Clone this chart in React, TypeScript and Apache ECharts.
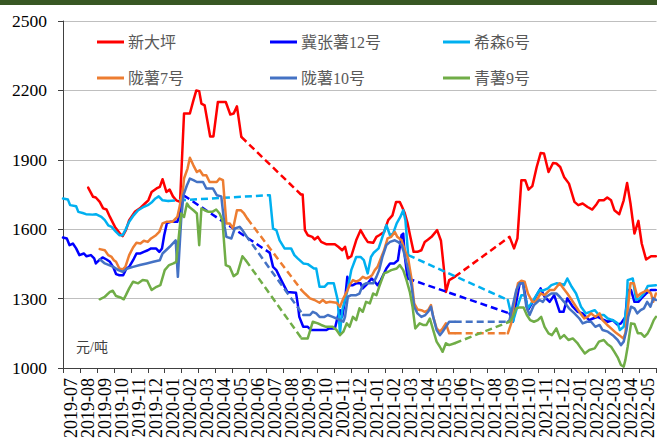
import React, { useEffect, useRef } from "react";
import * as echarts from "echarts";

type Pt = [string, number];

const MONTHS = [
  "2019-07", "2019-08", "2019-09", "2019-10", "2019-11", "2019-12",
  "2020-01", "2020-02", "2020-03", "2020-04", "2020-05", "2020-06",
  "2020-07", "2020-08", "2020-09", "2020-10", "2020-11", "2020-12",
  "2021-01", "2021-02", "2021-03", "2021-04", "2021-05", "2021-06",
  "2021-07", "2021-08", "2021-09", "2021-10", "2021-11", "2021-12",
  "2022-01", "2022-02", "2022-03", "2022-04", "2022-05",
];

const Y_MIN = 1000;
const Y_MAX = 2500;
const Y_STEP = 300;

// 新大坪
const XIN_DA_PING: Pt[][] = [
  [["2019-08-16",1780],["2019-08-25",1740],["2019-08-30",1737],["2019-09-06",1718],["2019-09-12",1690],["2019-09-18",1685],["2019-09-24",1653],["2019-10-03",1610],["2019-10-12",1581],["2019-10-17",1570],["2019-10-23",1596],["2019-10-29",1639],["2019-11-08",1675],["2019-11-17",1690],["2019-11-26",1711],["2019-12-02",1725],["2019-12-08",1761],["2019-12-17",1776],["2019-12-23",1783],["2019-12-28",1816],["2020-01-04",1761],["2020-01-10",1771],["2020-01-16",1742],["2020-01-22",1725],["2020-01-29",1718],["2020-02-05",2100],["2020-02-15",2100],["2020-02-21",2157],["2020-02-26",2200],["2020-03-02",2197],["2020-03-06",2143],["2020-03-12",2135],["2020-03-22",2001],["2020-03-28",2001],["2020-04-05",2150],["2020-04-19",2150],["2020-04-27",2096],["2020-05-03",2100],["2020-05-09",2131],["2020-05-17",1999]],
  [["2020-09-02",1750],["2020-09-05",1750],["2020-09-09",1596],["2020-09-14",1574],["2020-09-22",1567],["2020-09-26",1556],["2020-10-02",1567],["2020-10-08",1545],["2020-10-17",1535],["2020-11-02",1535],["2020-11-08",1524],["2020-11-15",1509],["2020-11-20",1524],["2020-11-25",1474],["2020-12-01",1483],["2020-12-10",1552],["2020-12-18",1596],["2020-12-25",1567],["2020-12-31",1545],["2021-01-10",1541],["2021-01-16",1567],["2021-01-21",1574],["2021-01-30",1588],["2021-02-06",1639],["2021-02-13",1660],["2021-02-19",1718],["2021-02-25",1718],["2021-03-01",1696],["2021-03-06",1668],["2021-03-11",1625],["2021-03-16",1567],["2021-03-22",1502],["2021-03-29",1502],["2021-04-05",1509],["2021-04-11",1545],["2021-04-17",1556],["2021-04-23",1567],["2021-05-03",1596],["2021-05-10",1550],["2021-05-15",1437],["2021-05-19",1329],["2021-05-25",1380],["2021-06-04",1394]],
  [["2021-09-11",1567],["2021-09-19",1517],["2021-09-25",1560],["2021-10-02",1812],["2021-10-09",1812],["2021-10-15",1771],["2021-10-22",1786],["2021-10-30",1869],["2021-11-06",1929],["2021-11-12",1927],["2021-11-20",1847],["2021-11-28",1886],["2021-12-04",1884],["2021-12-11",1869],["2021-12-18",1826],["2021-12-27",1797],["2022-01-06",1718],["2022-01-13",1704],["2022-01-21",1711],["2022-01-30",1696],["2022-02-07",1685],["2022-02-14",1708],["2022-02-18",1725],["2022-02-26",1725],["2022-03-04",1737],["2022-03-11",1725],["2022-03-17",1682],["2022-03-26",1665],["2022-04-03",1725],["2022-04-09",1800],["2022-04-15",1711],["2022-04-22",1581],["2022-04-29",1636],["2022-05-05",1538],["2022-05-13",1469],["2022-05-22",1483],["2022-05-31",1483]],
];

// 冀张薯12号
const JI_ZHANG_12: Pt[][] = [
  [["2019-07-01",1564],["2019-07-08",1560],["2019-07-13",1531],["2019-07-19",1538],["2019-07-25",1517],["2019-07-31",1488],["2019-08-08",1495],["2019-08-13",1483],["2019-08-21",1488],["2019-08-27",1474],["2019-08-30",1452],["2019-09-05",1466],["2019-09-11",1478],["2019-09-18",1469],["2019-09-24",1459],["2019-09-30",1435],["2019-10-05",1406],["2019-10-11",1401],["2019-10-18",1401],["2019-10-24",1430],["2019-10-29",1437],["2019-11-05",1466],["2019-11-11",1495],["2019-11-18",1495],["2019-11-24",1502],["2019-12-01",1509],["2019-12-07",1517],["2019-12-16",1517],["2019-12-22",1502],["2019-12-27",1517],["2019-12-31",1574],["2020-01-05",1627],["2020-01-12",1632],["2020-01-24",1632],["2020-01-29",1675],["2020-02-04",1747]],
  [["2020-07-07",1498],["2020-07-13",1437],["2020-07-19",1423],["2020-07-25",1394],["2020-07-31",1366],["2020-08-08",1329],["2020-08-24",1325],["2020-08-27",1279],["2020-08-30",1221],["2020-09-06",1178],["2020-09-14",1178],["2020-09-20",1164],["2020-10-05",1164],["2020-10-17",1164],["2020-10-23",1171],["2020-11-02",1171],["2020-11-07",1221],["2020-11-11",1250],["2020-11-15",1221],["2020-11-20",1294],["2020-11-24",1394],["2020-11-28",1358],["2020-12-04",1358],["2020-12-10",1366],["2020-12-18",1366],["2020-12-22",1344],["2020-12-28",1358],["2021-01-07",1387],["2021-01-13",1373],["2021-01-18",1358],["2021-01-24",1380],["2021-02-03",1430],["2021-02-09",1452],["2021-02-16",1452],["2021-02-22",1466],["2021-02-28",1574],["2021-03-03",1581],["2021-03-06",1480],["2021-03-11",1387]],
  [["2021-09-11",1236],["2021-09-17",1200],["2021-09-23",1286],["2021-09-29",1366],["2021-10-05",1366],["2021-10-14",1250],["2021-10-25",1294],["2021-11-06",1344],["2021-11-13",1308],["2021-11-22",1286],["2021-11-30",1315],["2021-12-10",1243],["2021-12-17",1243],["2021-12-24",1301],["2022-01-03",1265],["2022-01-12",1243],["2022-01-21",1236],["2022-01-27",1221],["2022-02-02",1207],["2022-02-08",1214],["2022-02-16",1221],["2022-02-24",1210],["2022-03-05",1200],["2022-03-14",1207],["2022-03-23",1186],["2022-03-29",1193],["2022-04-06",1221],["2022-04-10",1337],["2022-04-16",1337],["2022-04-22",1286],["2022-04-29",1286],["2022-05-07",1308],["2022-05-13",1322],["2022-05-22",1337],["2022-05-31",1337]],
];

// 希森6号
const XI_SEN_6: Pt[][] = [
  [["2019-07-01",1733],["2019-07-10",1728],["2019-07-14",1704],["2019-07-25",1699],["2019-07-29",1675],["2019-08-06",1670],["2019-08-12",1665],["2019-08-24",1663],["2019-08-30",1665],["2019-09-09",1653],["2019-09-15",1639],["2019-09-21",1617],["2019-09-27",1610],["2019-10-05",1588],["2019-10-11",1574],["2019-10-17",1574],["2019-10-22",1596],["2019-10-29",1632],["2019-11-06",1660],["2019-11-14",1682],["2019-11-22",1694],["2019-12-01",1704],["2019-12-09",1718],["2019-12-15",1733],["2019-12-21",1742],["2019-12-28",1725],["2020-01-07",1722]],
  [["2020-07-07",1747],["2020-07-13",1603],["2020-07-19",1596],["2020-07-25",1552],["2020-08-03",1517],["2020-08-15",1517],["2020-08-21",1488],["2020-08-27",1474],["2020-09-06",1452],["2020-09-14",1449],["2020-09-25",1430],["2020-09-29",1430],["2020-10-05",1351],["2020-10-14",1351],["2020-10-20",1366],["2020-10-31",1366],["2020-11-07",1294],["2020-11-11",1150],["2020-11-15",1250],["2020-11-23",1322],["2020-12-01",1423],["2020-12-10",1480],["2020-12-18",1480],["2020-12-24",1466],["2020-12-31",1409],["2021-01-06",1480],["2021-01-11",1498],["2021-01-20",1517],["2021-01-27",1567],["2021-02-03",1617],["2021-02-09",1574],["2021-02-14",1581],["2021-02-20",1625],["2021-02-26",1653],["2021-03-03",1682],["2021-03-07",1639],["2021-03-12",1488]],
  [["2021-09-08",1294],["2021-09-17",1200],["2021-09-23",1250],["2021-10-02",1315],["2021-10-08",1315],["2021-10-14",1258],["2021-10-22",1286],["2021-11-04",1337],["2021-11-10",1334],["2021-11-19",1344],["2021-11-25",1358],["2021-12-04",1366],["2021-12-13",1363],["2021-12-18",1358],["2021-12-24",1387],["2022-01-01",1351],["2022-01-09",1322],["2022-01-18",1265],["2022-01-27",1236],["2022-02-04",1243],["2022-02-11",1250],["2022-02-18",1229],["2022-02-26",1229],["2022-03-05",1214],["2022-03-14",1207],["2022-03-23",1193],["2022-03-27",1164],["2022-04-03",1178],["2022-04-08",1265],["2022-04-10",1380],["2022-04-19",1387],["2022-04-25",1294],["2022-05-01",1301],["2022-05-09",1322],["2022-05-16",1354],["2022-05-31",1358]],
];

// 陇薯7号
const LONG_SHU_7: Pt[][] = [
  [["2019-09-06",1514],["2019-09-15",1509],["2019-09-21",1488],["2019-09-27",1480],["2019-10-01",1466],["2019-10-05",1459],["2019-10-11",1430],["2019-10-17",1426],["2019-10-22",1437],["2019-10-29",1488],["2019-11-05",1521],["2019-11-11",1541],["2019-11-18",1538],["2019-11-24",1550],["2019-12-01",1545],["2019-12-07",1560],["2019-12-16",1574],["2019-12-22",1588],["2019-12-28",1625],["2020-01-04",1632],["2020-01-15",1632],["2020-01-24",1653],["2020-01-28",1696],["2020-02-03",1768],["2020-02-05",1819],["2020-02-11",1862],["2020-02-15",1909],["2020-02-21",1876],["2020-02-27",1847],["2020-03-03",1855],["2020-03-09",1833],["2020-03-15",1833],["2020-03-21",1804],["2020-04-03",1804],["2020-04-08",1819],["2020-04-14",1812],["2020-04-20",1625],["2020-04-26",1625],["2020-05-02",1603],["2020-05-09",1682],["2020-05-16",1682],["2020-05-22",1668],["2020-05-28",1646]],
  [["2020-09-03",1337],["2020-09-09",1322],["2020-09-18",1301],["2020-09-26",1294],["2020-10-05",1282],["2020-10-11",1294],["2020-10-17",1282],["2020-10-23",1286],["2020-11-05",1282],["2020-11-11",1265],["2020-11-17",1301],["2020-11-23",1329],["2020-11-28",1358],["2020-12-04",1380],["2020-12-10",1373],["2020-12-16",1380],["2020-12-22",1394],["2020-12-28",1387],["2021-01-04",1394],["2021-01-08",1401],["2021-01-13",1423],["2021-01-18",1437],["2021-01-24",1474],["2021-01-30",1509],["2021-02-05",1560],["2021-02-11",1567],["2021-02-17",1588],["2021-02-21",1567],["2021-02-28",1552],["2021-03-06",1509],["2021-03-12",1474],["2021-03-18",1387],["2021-03-23",1279],["2021-03-29",1253],["2021-04-05",1250],["2021-04-11",1243],["2021-04-17",1250],["2021-04-22",1272],["2021-04-26",1221],["2021-05-02",1171],["2021-05-08",1157],["2021-05-13",1171],["2021-05-19",1193],["2021-05-25",1150],["2021-06-04",1150]],
  [["2021-09-08",1150],["2021-09-14",1193],["2021-09-20",1294],["2021-09-26",1366],["2021-10-02",1377],["2021-10-08",1373],["2021-10-14",1322],["2021-10-22",1286],["2021-10-28",1286],["2021-11-06",1322],["2021-11-13",1315],["2021-11-22",1337],["2021-11-30",1337],["2021-12-10",1366],["2021-12-17",1344],["2021-12-24",1322],["2022-01-01",1294],["2022-01-09",1265],["2022-01-17",1236],["2022-01-24",1214],["2022-01-30",1221],["2022-02-05",1236],["2022-02-12",1221],["2022-02-19",1236],["2022-02-24",1207],["2022-03-04",1186],["2022-03-11",1171],["2022-03-20",1152],["2022-03-26",1142],["2022-04-02",1128],["2022-04-06",1150],["2022-04-10",1250],["2022-04-15",1366],["2022-04-21",1366],["2022-04-27",1308],["2022-05-03",1322],["2022-05-09",1329],["2022-05-15",1337],["2022-05-22",1322],["2022-05-26",1286],["2022-05-31",1322]],
];

// 陇薯10号
const LONG_SHU_10: Pt[][] = [
  [["2019-09-06",1470],["2019-09-15",1452],["2019-09-30",1437],["2019-10-09",1423],["2019-10-17",1416],["2019-10-26",1430],["2019-11-05",1437],["2019-11-17",1445],["2019-11-29",1452],["2019-12-11",1459],["2019-12-23",1466],["2019-12-28",1495],["2020-01-10",1524],["2020-01-21",1552],["2020-01-25",1394],["2020-01-31",1639],["2020-02-04",1747],["2020-02-10",1790],["2020-02-15",1819],["2020-02-21",1812],["2020-02-27",1804],["2020-03-09",1804],["2020-03-15",1776],["2020-03-27",1776],["2020-04-03",1747],["2020-04-11",1742],["2020-04-17",1610],["2020-04-20",1567],["2020-04-29",1560],["2020-05-05",1603],["2020-05-14",1610],["2020-05-19",1596],["2020-05-25",1574]],
  [["2020-09-06",1229],["2020-09-18",1229],["2020-09-23",1243],["2020-09-29",1236],["2020-10-05",1221],["2020-10-14",1221],["2020-10-20",1229],["2020-10-29",1221],["2020-11-05",1214],["2020-11-11",1207],["2020-11-17",1200],["2020-11-20",1221],["2020-11-25",1308],["2020-12-01",1315],["2020-12-10",1315],["2020-12-16",1322],["2020-12-22",1358],["2020-12-28",1366],["2021-01-10",1366],["2021-01-16",1394],["2021-01-21",1423],["2021-01-27",1480],["2021-02-03",1531],["2021-02-09",1545],["2021-02-17",1552],["2021-02-22",1545],["2021-02-28",1531],["2021-03-04",1502],["2021-03-10",1445],["2021-03-18",1358],["2021-03-23",1265],["2021-03-29",1236],["2021-04-05",1221],["2021-04-12",1229],["2021-04-17",1243],["2021-04-22",1265],["2021-04-26",1221],["2021-05-02",1164],["2021-05-08",1142],["2021-05-13",1157],["2021-05-19",1178],["2021-05-25",1200],["2021-06-04",1200]],
  [["2021-09-08",1200],["2021-09-11",1207],["2021-09-17",1272],["2021-09-23",1337],["2021-09-29",1366],["2021-10-05",1366],["2021-10-11",1265],["2021-10-17",1229],["2021-10-25",1272],["2021-11-04",1294],["2021-11-10",1286],["2021-11-16",1308],["2021-11-25",1322],["2021-12-04",1322],["2021-12-10",1308],["2021-12-18",1286],["2021-12-27",1258],["2022-01-06",1236],["2022-01-15",1214],["2022-01-21",1193],["2022-01-29",1200],["2022-02-05",1200],["2022-02-12",1178],["2022-02-19",1186],["2022-02-24",1164],["2022-03-05",1157],["2022-03-14",1142],["2022-03-23",1121],["2022-03-29",1099],["2022-04-03",1114],["2022-04-08",1164],["2022-04-11",1221],["2022-04-16",1265],["2022-04-22",1258],["2022-04-27",1236],["2022-05-03",1250],["2022-05-09",1258],["2022-05-15",1286],["2022-05-21",1265],["2022-05-26",1301],["2022-05-31",1294]],
];

// 青薯9号
const QING_SHU_9: Pt[][] = [
  [["2019-09-06",1297],["2019-09-15",1308],["2019-09-24",1329],["2019-09-29",1334],["2019-10-05",1311],["2019-10-13",1305],["2019-10-19",1297],["2019-10-23",1315],["2019-10-29",1344],["2019-11-05",1373],["2019-11-14",1366],["2019-11-22",1380],["2019-11-30",1377],["2019-12-08",1337],["2019-12-17",1351],["2019-12-24",1358],["2020-01-01",1423],["2020-01-09",1445],["2020-01-17",1452],["2020-01-22",1459],["2020-01-26",1552],["2020-01-31",1668],["2020-02-05",1653],["2020-02-10",1711],["2020-02-14",1696],["2020-02-21",1682],["2020-02-27",1668],["2020-03-02",1531],["2020-03-06",1690],["2020-03-12",1682],["2020-03-19",1675],["2020-03-26",1675],["2020-04-02",1685],["2020-04-08",1668],["2020-04-13",1639],["2020-04-19",1445],["2020-04-26",1437],["2020-05-03",1397],["2020-05-10",1409],["2020-05-19",1483],["2020-05-25",1466]],
  [["2020-09-03",1128],["2020-09-14",1128],["2020-09-23",1200],["2020-10-02",1193],["2020-10-08",1186],["2020-10-17",1178],["2020-10-29",1178],["2020-11-05",1164],["2020-11-11",1142],["2020-11-17",1157],["2020-11-23",1193],["2020-11-28",1178],["2020-12-04",1221],["2020-12-10",1207],["2020-12-16",1258],["2020-12-22",1243],["2020-12-28",1286],["2021-01-04",1279],["2021-01-10",1322],["2021-01-16",1315],["2021-01-21",1351],["2021-01-30",1409],["2021-02-06",1416],["2021-02-11",1423],["2021-02-20",1430],["2021-02-25",1445],["2021-03-03",1423],["2021-03-09",1380],["2021-03-15",1329],["2021-03-20",1265],["2021-03-25",1171],["2021-04-02",1193],["2021-04-08",1186],["2021-04-14",1186],["2021-04-20",1214],["2021-04-26",1164],["2021-05-02",1114],["2021-05-08",1092],["2021-05-13",1070],["2021-05-19",1107],["2021-05-25",1099],["2021-06-04",1107]],
  [["2021-09-11",1200],["2021-09-17",1221],["2021-09-23",1258],["2021-09-29",1262],["2021-10-06",1262],["2021-10-12",1229],["2021-10-18",1207],["2021-10-25",1200],["2021-11-01",1207],["2021-11-07",1221],["2021-11-13",1178],["2021-11-20",1150],["2021-11-26",1142],["2021-12-04",1171],["2021-12-11",1128],["2021-12-18",1142],["2021-12-26",1121],["2022-01-03",1128],["2022-01-11",1109],["2022-01-18",1085],["2022-01-25",1063],["2022-02-02",1078],["2022-02-11",1085],["2022-02-18",1114],["2022-02-26",1121],["2022-03-04",1104],["2022-03-11",1092],["2022-03-17",1070],["2022-03-23",1046],["2022-03-29",1013],["2022-04-03",1006],["2022-04-06",1035],["2022-04-10",1092],["2022-04-16",1193],["2022-04-22",1190],["2022-04-28",1150],["2022-05-04",1150],["2022-05-10",1135],["2022-05-16",1150],["2022-05-22",1178],["2022-05-27",1207],["2022-05-31",1221]],
];

const SERIES_DEFS = [
  { name: "新大坪", color: "#FF0000", segs: XIN_DA_PING },
  { name: "冀张薯12号", color: "#0000FF", segs: JI_ZHANG_12 },
  { name: "希森6号", color: "#00B0F0", segs: XI_SEN_6 },
  { name: "陇薯7号", color: "#ED7D31", segs: LONG_SHU_7 },
  { name: "陇薯10号", color: "#4472C4", segs: LONG_SHU_10 },
  { name: "青薯9号", color: "#70AD47", segs: QING_SHU_9 },
];

const UNIT_LABEL = "元/吨";

// fractional month position since 2019-07 (0 = start of 2019-07)
function toMonthPos(s: string): number {
  const [y, m, d] = s.split("-").map(Number);
  const dim = new Date(y, m, 0).getDate();
  return (y - 2019) * 12 + (m - 7) + (d - 1) / dim;
}

const SERIF = "Liberation Serif";
const MIXED = "Liberation Serif, Noto Sans CJK SC";

export default function App() {
  const ref = useRef<HTMLDivElement>(null);

  useEffect(() => {
    if (!ref.current) return;
    const chart = echarts.init(ref.current, undefined, { renderer: "svg" });

    const series: any[] = [];
    SERIES_DEFS.forEach((def, si) => {
      def.segs.forEach((seg, gi) => {
        series.push({
          type: "line",
          name: def.name,
          xAxisIndex: 1,
          yAxisIndex: 0,
          symbol: "none",
          showSymbol: false,
          silent: true,
          z: 2 + si,
          itemStyle: { color: def.color },
          lineStyle: { color: def.color, width: 2.5, type: "solid", cap: "round", join: "round" },
          data: seg.map(([d, v]) => [toMonthPos(d), v]),
        });
        if (gi < def.segs.length - 1) {
          const a = seg[seg.length - 1];
          const b = def.segs[gi + 1][0];
          series.push({
            type: "line",
            name: def.name,
            xAxisIndex: 1,
            yAxisIndex: 0,
            symbol: "none",
            showSymbol: false,
            silent: true,
            z: 2 + si,
            itemStyle: { color: def.color },
            lineStyle: { color: def.color, width: 2.5, type: [7, 4] },
            data: [a, b].map(([d, v]) => [toMonthPos(d), v]),
          });
        }
      });
    });

    const legendLeft = [97, 270, 443];
    const legendTop = [34, 70];
    const legend = SERIES_DEFS.map((def, i) => ({
      data: [def.name],
      left: legendLeft[i % 3],
      top: legendTop[Math.floor(i / 3)],
      icon: "rect",
      itemWidth: 27,
      itemHeight: 3,
      itemGap: 0,
      padding: 0,
      selectedMode: false,
      textStyle: { fontFamily: MIXED, fontSize: 16, color: "#595959", padding: [0, 0, 0, -1] },
    }));

    chart.setOption({
      animation: false,
      backgroundColor: "#ffffff",
      grid: { left: 63, right: 0, top: 21, bottom: 73, containLabel: false },
      legend,
      xAxis: [
        {
          type: "category",
          data: MONTHS,
          boundaryGap: true,
          axisLine: { show: true, lineStyle: { color: "#404040", width: 1 } },
          axisTick: { show: true, length: 5, lineStyle: { color: "#404040" } },
          axisLabel: {
            interval: 0,
            rotate: 90,
            margin: 10,
            fontFamily: SERIF,
            fontSize: 18,
            color: "#000000",
          },
          splitLine: { show: false },
        },
        {
          type: "value",
          min: 0,
          max: MONTHS.length,
          show: false,
          splitLine: { show: false },
        },
      ],
      yAxis: {
        type: "value",
        min: Y_MIN,
        max: Y_MAX,
        interval: Y_STEP,
        axisLine: { show: true, lineStyle: { color: "#404040", width: 1 } },
        axisTick: { show: true, length: 5, inside: false, lineStyle: { color: "#404040" } },
        axisLabel: {
          margin: 16,
          fontFamily: SERIF,
          fontSize: 17.5,
          color: "#000000",
          formatter: (v: number) => String(v),
        },
        splitLine: { show: true, lineStyle: { color: "#BFBFBF", width: 1 } },
      },
      graphic: [
        { type: "rect", left: 0, top: 0, shape: { x: 0, y: 0, width: 657, height: 5 }, style: { fill: "#385723" }, silent: true },
        {
          type: "text",
          left: 76,
          top: 340,
          style: { text: UNIT_LABEL, fontFamily: MIXED, fontSize: 14, fill: "#404040" },
          silent: true,
        },
      ],
      series,
    });

    return () => chart.dispose();
  }, []);

  return (
    <div
      ref={ref}
      style={{ position: "absolute", left: 0, top: 0, width: 657, height: 441, background: "#fff" }}
    />
  );
}
